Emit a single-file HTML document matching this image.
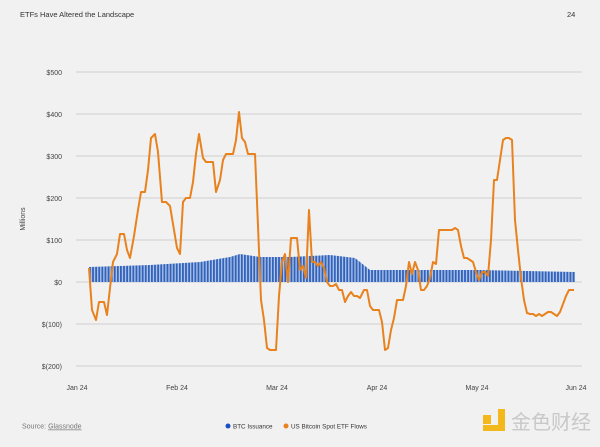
<!DOCTYPE html>
<html><head><meta charset="utf-8"><style>
body{margin:0;background:#f1f1f1;width:600px;height:442px;overflow:hidden;font-family:"Liberation Sans",sans-serif}
</style></head><body>
<svg width="600" height="442" xmlns="http://www.w3.org/2000/svg" font-family="Liberation Sans, sans-serif">
<defs>
<pattern id="st" x="89" y="0" width="3.1" height="10" patternUnits="userSpaceOnUse">
<rect width="3.1" height="10" fill="#b3cbee"/><rect width="1.9" height="10" fill="#3562b9"/>
</pattern>
</defs>
<text x="20" y="17" font-size="7.5" fill="#333">ETFs Have Altered the Landscape</text>
<text x="567" y="17" font-size="7.5" fill="#333">24</text>
<g stroke="#cfcfcf" stroke-width="1">
<line x1="76" x2="582" y1="72" y2="72"/><line x1="76" x2="582" y1="114" y2="114"/>
<line x1="76" x2="582" y1="156" y2="156"/><line x1="76" x2="582" y1="198" y2="198"/>
<line x1="76" x2="582" y1="240" y2="240"/><line x1="76" x2="582" y1="282" y2="282"/>
<line x1="76" x2="582" y1="324" y2="324"/><line x1="76" x2="582" y1="366" y2="366"/>
</g>
<g font-size="7" fill="#444" text-anchor="end">
<text x="62" y="75">$500</text><text x="62" y="117">$400</text><text x="62" y="159">$300</text>
<text x="62" y="201">$200</text><text x="62" y="243">$100</text><text x="62" y="285">$0</text>
<text x="62" y="327">$(100)</text><text x="62" y="369">$(200)</text>
</g>
<text transform="translate(25,219) rotate(-90)" font-size="7" fill="#444" text-anchor="middle">Millions</text>
<polygon fill="url(#st)" points="89,282 89,267 120,266 150,265 200,262 230,257 240,254 260,257 290,257 330,255 355,258 370,270 480,270 575,272 575,282"/>
<polyline fill="none" stroke="#e8821e" stroke-width="2" stroke-linejoin="round" points="89,268 92,310 96,320 99,302 104,302 107,315 110,288 113,262 117,254 120,234 124,234 127,250 130,258 134,236 138,210 141,192 145,192 148,170 151,138 155,134 158,152 162,202 166,202 170,206 173,224 177,248 180,254 183,202 186,198 190,198 193,182 196,154 199,134 203,158 206,162 210,162 213,162 216,192 220,180 223,160 226,154 230,154 233,154 236,140 239,112 242,138 245,142 248,154 252,154 255,154 258,226 261,300 264,320 267,348 270,350 273,350 276,350 279,296 282,262 285,254 288,282 291,238 294,238 297,238 300,270 303,266 306,278 309,210 312,262 315,262 318,266 321,262 324,268 327,282 330,286 333,286 336,284 339,290 342,290 345,302 348,296 351,292 354,296 357,296 360,298 364,290 367,290 370,306 373,310 376,310 379,310 382,322 385,350 388,348 391,330 394,318 397,300 400,300 403,300 406,286 409,262 412,274 415,262 418,270 421,290 424,290 427,286 430,278 433,262 436,264 439,230 442,230 445,230 448,230 452,230 455,228 458,230 461,246 464,258 467,258 470,260 473,262 476,272 479,280 482,272 485,272 488,276 491,240 494,180 497,180 500,160 503,140 506,138 509,138 512,140 515,220 518,250 521,278 524,300 527,313 530,314 533,314 536,316 539,314 542,316 545,314 548,312 551,312 554,314 557,316 560,312 563,304 566,296 569,290 574,290"/>
<g font-size="7" fill="#444" text-anchor="middle">
<text x="77" y="390">Jan 24</text><text x="177" y="390">Feb 24</text><text x="277" y="390">Mar 24</text>
<text x="377" y="390">Apr 24</text><text x="477" y="390">May 24</text><text x="576" y="390">Jun 24</text>
</g>
<text x="22" y="428.5" font-size="7" fill="#777">Source: <tspan text-decoration="underline">Glassnode</tspan></text>
<circle cx="228" cy="426" r="2.5" fill="#1a4fc0"/>
<text x="233" y="428.5" font-size="6.3" fill="#333">BTC Issuance</text>
<circle cx="286" cy="426" r="2.5" fill="#e8821e"/>
<text x="291" y="428.5" font-size="6.3" fill="#333">US Bitcoin Spot ETF Flows</text>
<rect x="483" y="415" width="8" height="9" fill="#f2b81c"/>
<path d="M498,409 h7 v22 h-22 v-6 h15z" fill="#f2b81c"/>
<text x="511" y="429" font-size="20" fill="#c8c8c8" font-family="Noto Sans CJK SC, sans-serif">金色财经</text>
</svg>
</body></html>
